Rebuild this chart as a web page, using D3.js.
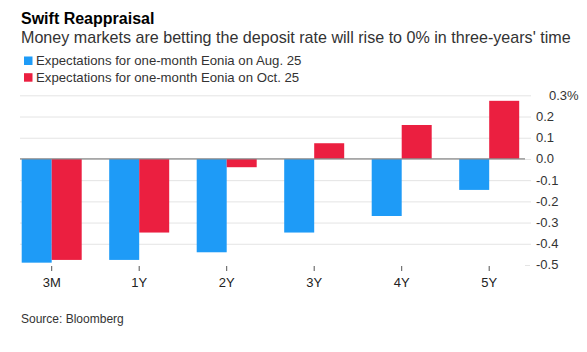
<!DOCTYPE html>
<html>
<head>
<meta charset="utf-8">
<script src="https://cdn.jsdelivr.net/npm/d3@7/dist/d3.min.js"></script>
<style>
  html, body { margin: 0; padding: 0; background: #fff; }
  svg { display: block; font-family: "Liberation Sans", Arial, Helvetica, sans-serif; }
</style>
</head>
<body>
<div id="chart"></div>
<script>
// Data
const tenors = ['3M', '1Y', '2Y', '3Y', '4Y', '5Y'];
const seriesNames = ['Expectations for one-month Eonia on Aug. 25', 'Expectations for one-month Eonia on Oct. 25'];
const aug25 = [-0.489, -0.476, -0.44, -0.347, -0.269, -0.146];
const oct25 = [-0.476, -0.347, -0.039, 0.074, 0.16, 0.274];
const seriesColors = ['#1e9bf7', '#eb1f40'];
const yTicks = [0.3, 0.2, 0.1, 0.0, -0.1, -0.2, -0.3, -0.4, -0.5];

const width = 587, height = 352;

const svg = d3.select('#chart').append('svg')
  .attr('width', width).attr('height', height);

// Header
svg.append('text')
  .attr('x', 21).attr('y', 23.5)
  .attr('font-size', 16).attr('font-weight', 700).attr('fill', '#000')
  .text('Swift Reappraisal');

svg.append('text')
  .attr('x', 21).attr('y', 42.5)
  .attr('font-size', 16.1).attr('fill', '#333')
  .text("Money markets are betting the deposit rate will rise to 0% in three-years' time");

// Legend
const legend = svg.append('g');
seriesNames.forEach((name, i) => {
  const row = legend.append('g').attr('transform', `translate(24,${56.5 + i * 16.7})`);
  row.append('rect').attr('width', 8.5).attr('height', 8.5).attr('fill', seriesColors[i]);
  row.append('text').attr('x', 12).attr('y', 8.3)
    .attr('font-size', 13.2).attr('fill', '#333').text(name);
});

// Scales
const x = d3.scaleBand().domain(tenors).range([21.7, 519.2]).paddingInner(0.3143).paddingOuter(0);
const xs = d3.scaleBand().domain([0, 1]).range([0, x.bandwidth()]);
const y = d3.scaleLinear().domain([-0.5, 0.3]).range([265, 95.3]);

const gridRight = 531;
const gridLeft = 20;

// Gridlines
const grid = svg.append('g').attr('transform', `translate(${gridRight},0)`)
  .call(d3.axisLeft(y).tickValues(yTicks).tickSize(gridRight - gridLeft).tickFormat(''));
grid.select('.domain').remove();
grid.selectAll('.tick line').attr('stroke', '#e4e4e4').attr('stroke-width', 1);
grid.selectAll('.tick').filter((d) => d === -0.5).select('line')
  .attr('x1', -1).attr('x2', -6);

// Y labels on the right
const yLabels = svg.append('g');
yLabels.selectAll('text').data(yTicks).join('text')
  .attr('x', (d) => d === 0.3 ? 549 : 536)
  .attr('y', (d) => y(d))
  .attr('dy', '0.34em')
  .attr('font-size', 13).attr('fill', '#333')
  .text((d, i) => i === 0 ? d3.format('.1f')(d) + '%' : d3.format('.1f')(d).replace('−', '-'));

// Bars
const rows = tenors.map((t, i) => ({ tenor: t, values: [aug25[i], oct25[i]] }));
const groups = svg.append('g').selectAll('g').data(rows).join('g')
  .attr('transform', (d) => `translate(${x(d.tenor)},0)`);
groups.selectAll('rect').data((d) => d.values.map((v, k) => ({ v, k }))).join('rect')
  .attr('x', (d) => xs(d.k))
  .attr('width', xs.bandwidth())
  .attr('y', (d) => y(Math.max(0, d.v)))
  .attr('height', (d) => Math.abs(y(d.v) - y(0)))
  .attr('fill', (d) => seriesColors[d.k]);

// Zero line
svg.append('line')
  .attr('x1', gridLeft).attr('x2', 525)
  .attr('y1', y(0)).attr('y2', y(0))
  .attr('stroke', '#8a8a8a').attr('stroke-width', 1.3);

// X axis
const xAxis = svg.append('g').attr('transform', 'translate(0,265)')
  .call(d3.axisBottom(x).tickSize(5).tickPadding(8));
xAxis.select('.domain').remove();
xAxis.selectAll('.tick line').attr('stroke', '#555').attr('transform', 'translate(0,1)');
xAxis.selectAll('.tick text').attr('font-size', 13).attr('fill', '#222')
  .attr('font-family', '"Liberation Sans", Arial, sans-serif');

// Source
svg.append('text')
  .attr('x', 21).attr('y', 322.5)
  .attr('font-size', 12).attr('fill', '#333')
  .text('Source: Bloomberg');
</script>
</body>
</html>
